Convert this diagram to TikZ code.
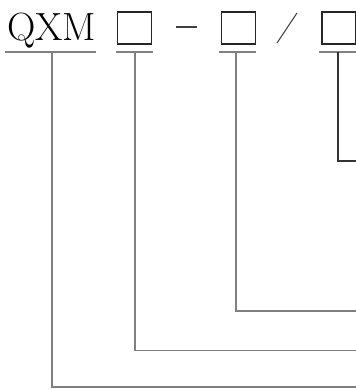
\documentclass[tikz,border=0pt]{standalone}
\begin{document}
\begin{tikzpicture}[x=0.75pt,y=-0.75pt,
  lead/.style={draw=black!50,line width=1.1pt},
  slot/.style={draw=black!85,line width=0.8pt,minimum width=25.5pt,minimum height=24pt,inner sep=0pt},
  sym/.style={draw=black!75,line width=0.8pt}]
\useasboundingbox (0,0) rectangle (356,390);
\node[anchor=base west,inner sep=0pt,font=\fontsize{29.5}{31}\selectfont] (q) at (7,40) {QXM};
\node[slot] (b1) at (134.5,28) {};
\node[slot] (b2) at (238.5,28) {};
\node[slot] (b3) at (339,28) {};
% dash and slash
\coordinate (d1) at (176,27); \coordinate (d2) at (197,27);
\draw[sym] (d1) -- (d2);
\coordinate (s1) at (277,43); \coordinate (s2) at (297,13);
\draw[sym] (s1) -- (s2);
% underlines
\coordinate (u0a) at (5,52); \coordinate (u0b) at (96,52);
\coordinate (u1a) at (116,52); \coordinate (u1b) at (153,52);
\coordinate (u2a) at (219,52); \coordinate (u2b) at (256,52);
\coordinate (u3a) at (319,52); \coordinate (u3b) at (357,52);
\draw[lead] (u0a) -- (u0b);
\draw[lead] (u1a) -- (u1b);
\draw[lead] (u2a) -- (u2b);
\draw[lead] (u3a) -- (u3b);
% leader lines
\coordinate (t0) at (52,52); \coordinate (e0) at (357,387);
\coordinate (t1) at (135,52); \coordinate (e1) at (357,350.5);
\coordinate (t2) at (236,52); \coordinate (e2) at (357,311);
\coordinate (t3) at (338,52); \coordinate (e3) at (357,161);
\draw[lead] (t0) |- (e0);
\draw[lead] (t1) |- (e1);
\draw[lead] (t2) |- (e2);
\draw[draw=black!80,line width=0.9pt] (t3) |- (e3);
\end{tikzpicture}
\end{document}
